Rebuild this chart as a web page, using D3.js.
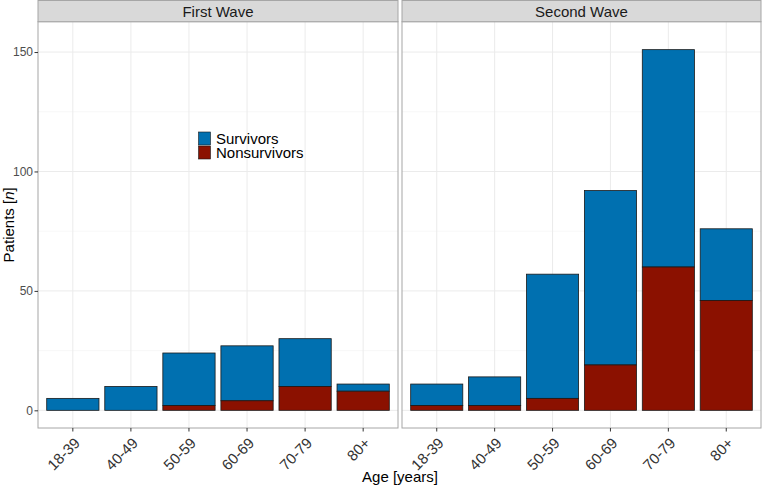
<!DOCTYPE html>
<html>
<head>
<meta charset="utf-8">
<script src="https://cdn.jsdelivr.net/npm/d3@7"></script>
<style>
  body { margin: 0; background: #fff; }
  text { font-family: "Liberation Sans", Arial, sans-serif; }
</style>
</head>
<body>
<div id="chart"></div>
<script>
// data
var ageGroups = ["18-39", "40-49", "50-59", "60-69", "70-79", "80+"];
var waves = ["First Wave", "Second Wave"];
var nonsurvivorsFirst = [0, 0, 2, 4, 10, 8];
var survivorsFirst = [5, 10, 22, 23, 20, 3];
var nonsurvivorsSecond = [2, 2, 5, 19, 60, 46];
var survivorsSecond = [9, 12, 52, 73, 91, 30];
var yTicks = [0, 50, 100, 150];
var yMinor = [25, 75, 125];

var width = 762, height = 487;
var colSurv = "#0070b0", colNon = "#8b1100";

var svg = d3.select("#chart").append("svg")
  .attr("width", width)
  .attr("height", height);

var panelTop = 21.7, panelBottom = 428;
var y = d3.scaleLinear().domain([-7.4, 162.7]).range([panelBottom, panelTop]);

var panels = [
  {name: waves[0], x0: 38, x1: 398, surv: survivorsFirst, non: nonsurvivorsFirst},
  {name: waves[1], x0: 402, x1: 761, surv: survivorsSecond, non: nonsurvivorsSecond}
];

panels.forEach(function(p){
  var x = d3.scaleBand().domain(ageGroups).range([p.x0, p.x1])
    .paddingInner(0.1).paddingOuter(0.15);

  var g = svg.append("g");

  // panel background
  g.append("rect")
    .attr("x", p.x0).attr("y", panelTop)
    .attr("width", p.x1 - p.x0).attr("height", panelBottom - panelTop)
    .attr("fill", "#fff");

  // grid
  g.selectAll(".minor").data(yMinor).enter().append("line")
    .attr("x1", p.x0).attr("x2", p.x1)
    .attr("y1", function(d){ return y(d); }).attr("y2", function(d){ return y(d); })
    .attr("stroke", "#f2f2f2").attr("stroke-width", 0.6);
  g.selectAll(".major").data(yTicks).enter().append("line")
    .attr("x1", p.x0).attr("x2", p.x1)
    .attr("y1", function(d){ return y(d); }).attr("y2", function(d){ return y(d); })
    .attr("stroke", "#ebebeb").attr("stroke-width", 1);
  g.selectAll(".vgrid").data(ageGroups).enter().append("line")
    .attr("x1", function(d){ return x(d) + x.bandwidth() / 2; })
    .attr("x2", function(d){ return x(d) + x.bandwidth() / 2; })
    .attr("y1", panelTop).attr("y2", panelBottom)
    .attr("stroke", "#ebebeb").attr("stroke-width", 1);

  // bars: nonsurvivors at bottom, survivors stacked on top
  var rows = ageGroups.map(function(a, i){ return {age: a, non: p.non[i], surv: p.surv[i]}; });
  g.selectAll(".surv").data(rows).enter().append("rect")
    .attr("x", function(d){ return x(d.age); })
    .attr("width", x.bandwidth())
    .attr("y", function(d){ return y(d.non + d.surv); })
    .attr("height", function(d){ return y(d.non) - y(d.non + d.surv); })
    .attr("fill", colSurv).attr("stroke", "#1a1a1a").attr("stroke-width", 0.8);
  g.selectAll(".non").data(rows.filter(function(d){ return d.non > 0; })).enter().append("rect")
    .attr("x", function(d){ return x(d.age); })
    .attr("width", x.bandwidth())
    .attr("y", function(d){ return y(d.non); })
    .attr("height", function(d){ return y(0) - y(d.non); })
    .attr("fill", colNon).attr("stroke", "#1a1a1a").attr("stroke-width", 0.8);

  // panel border
  g.append("rect")
    .attr("x", p.x0).attr("y", panelTop)
    .attr("width", p.x1 - p.x0).attr("height", panelBottom - panelTop)
    .attr("fill", "none").attr("stroke", "#a6a6a6").attr("stroke-width", 1);

  // strip
  g.append("rect")
    .attr("x", p.x0).attr("y", 0.5)
    .attr("width", p.x1 - p.x0).attr("height", panelTop - 0.5)
    .attr("fill", "#d9d9d9").attr("stroke", "#a6a6a6").attr("stroke-width", 1);
  g.append("text")
    .attr("x", (p.x0 + p.x1) / 2).attr("y", 16.5)
    .attr("text-anchor", "middle")
    .attr("font-size", 15).attr("fill", "#1a1a1a")
    .text(p.name);

  // x axis
  var xAxis = g.append("g")
    .attr("transform", "translate(0," + panelBottom + ")")
    .call(d3.axisBottom(x).tickSize(3.5).tickSizeOuter(0));
  xAxis.select(".domain").remove();
  xAxis.selectAll(".tick line").attr("stroke", "#333");
  xAxis.selectAll(".tick text")
    .attr("font-size", 15).attr("fill", "#333")
    .attr("font-family", "Liberation Sans, Arial, sans-serif")
    .attr("text-anchor", "end")
    .attr("x", 0).attr("y", 0).attr("dy", 0)
    .attr("transform", "translate(8,16) rotate(-45)");
});

// y axis (left panel only)
var yAxis = svg.append("g")
  .attr("transform", "translate(38,0)")
  .call(d3.axisLeft(y).tickValues(yTicks).tickSize(3.5));
yAxis.select(".domain").remove();
yAxis.selectAll(".tick line").attr("stroke", "#333");
yAxis.selectAll(".tick text")
  .attr("font-size", 12).attr("fill", "#4d4d4d")
  .attr("font-family", "Liberation Sans, Arial, sans-serif")
  .attr("x", -5);

// axis titles
var yTitle = svg.append("text")
  .attr("transform", "translate(13.5," + ((panelTop + panelBottom) / 2) + ") rotate(-90)")
  .attr("text-anchor", "middle")
  .attr("font-size", 15).attr("fill", "#000");
yTitle.append("tspan").text("Patients [");
yTitle.append("tspan").attr("font-style", "italic").text("n");
yTitle.append("tspan").text("]");

svg.append("text")
  .attr("x", 400).attr("y", 482)
  .attr("text-anchor", "middle")
  .attr("font-size", 15).attr("fill", "#000")
  .text("Age [years]");

// legend
var legendItems = [{label: "Survivors", color: colSurv}, {label: "Nonsurvivors", color: colNon}];
var legend = svg.append("g").attr("transform", "translate(198,131.5)");
legend.selectAll("rect").data(legendItems).enter().append("rect")
  .attr("x", 0.5).attr("y", function(d, i){ return i * 14 + 0.5; })
  .attr("width", 12).attr("height", 13)
  .attr("fill", function(d){ return d.color; })
  .attr("stroke", "#1a1a1a").attr("stroke-width", 0.6);
legend.selectAll("text").data(legendItems).enter().append("text")
  .attr("x", 18).attr("y", function(d, i){ return i * 14 + 12; })
  .attr("font-size", 15).attr("fill", "#000")
  .text(function(d){ return d.label; });
</script>
</body>
</html>
